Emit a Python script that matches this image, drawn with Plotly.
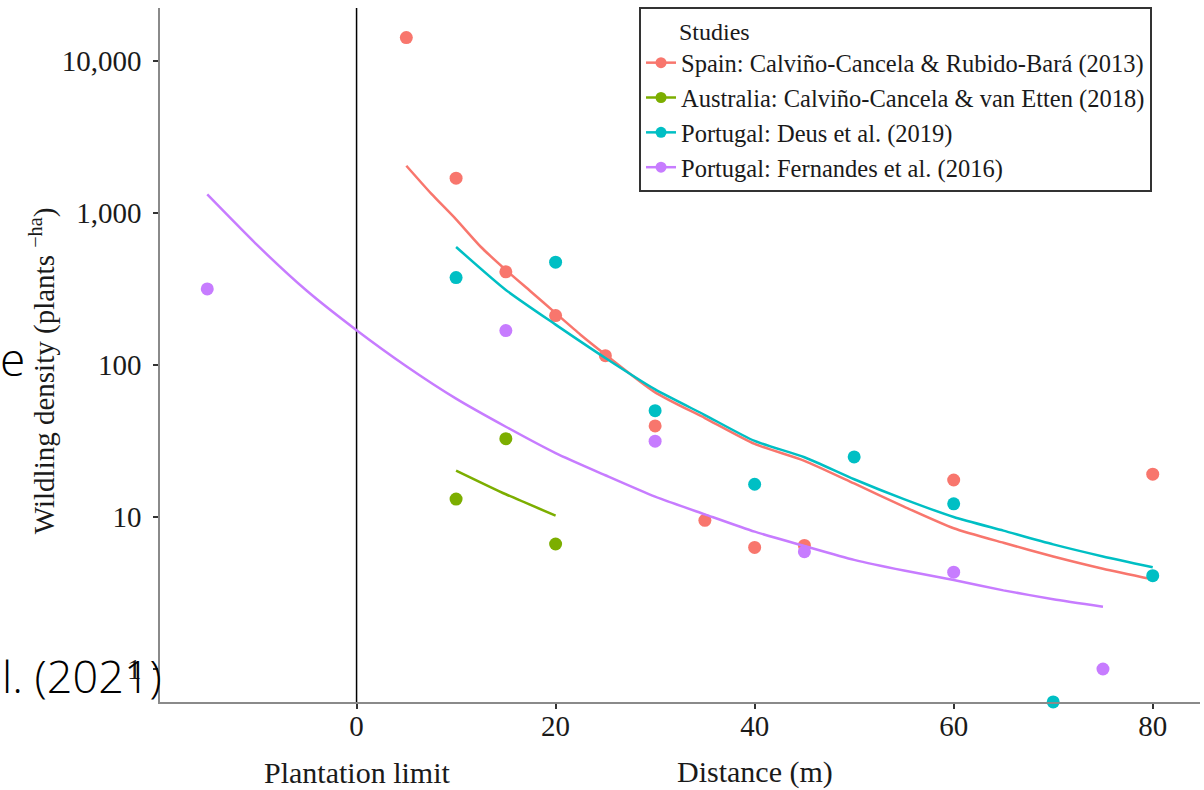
import plotly.graph_objects as go

# ---- observed points (distance in m, wildling density in plants/ha) ----
spain_x = [5, 10, 15, 20, 25, 30, 35, 40, 45, 60, 80]
spain_y = [14200, 1690, 409, 211, 115, 39.7, 9.5, 6.3, 6.5, 17.5, 19.1]

aus_x = [10, 15, 20]
aus_y = [13.1, 32.7, 6.64]

deus_x = [10, 20, 30, 40, 50, 60, 70, 80]
deus_y = [375, 474, 50, 16.4, 24.8, 12.2, 0.607, 4.11]  # 0 value drawn at axis floor

fern_x = [-15, 15, 30, 45, 60, 75]
fern_y = [316, 168, 31.5, 5.91, 4.33, 1.0]

# ---- fitted curves ----
spain_fit_x = [5, 7.5, 10, 12.5, 15, 17.5, 20, 22.5, 25, 30, 35, 40, 45, 50, 55, 60, 65, 70, 75, 80]
spain_fit_y = [2040, 1337, 906, 596, 421, 304, 219, 158, 117, 66, 44.7, 30.2, 23.4, 16.6, 11.7, 8.43, 6.76, 5.5, 4.57, 3.89]

aus_fit_x = [10, 15, 20]
aus_fit_y = [20.2, 14.1, 10.2]

deus_fit_x = [10, 15, 20, 25, 30, 35, 40, 45, 50, 55, 60, 65, 70, 75, 80]
deus_fit_y = [596, 311, 184, 111, 69, 46.8, 31.6, 24.7, 17.7, 13.1, 10.0, 8.13, 6.6, 5.5, 4.67]

fern_fit_x = [-15, -10, -5, 0, 5, 10, 15, 20, 25, 30, 35, 40, 45, 50, 55, 60, 65, 70, 75]
fern_fit_y = [1320, 615, 307, 169, 98, 60, 39.2, 26.3, 18.8, 13.6, 10.4, 8.0, 6.44, 5.22, 4.44, 3.85, 3.29, 2.88, 2.57]

study_names = [
    "Spain: Calviño-Cancela & Rubido-Bará (2013)",
    "Australia: Calviño-Cancela & van Etten (2018)",
    "Portugal: Deus et al. (2019)",
    "Portugal: Fernandes et al. (2016)",
]
colors = ["#F8766D", "#7CAE00", "#00BFC4", "#C77CFF"]

x_ticks = [0, 20, 40, 60, 80]
y_ticks = [1, 10, 100, 1000, 10000]
y_tick_text = ["1", "10", "100", "1,000", "10,000"]

pts = [(spain_x, spain_y), (aus_x, aus_y), (deus_x, deus_y), (fern_x, fern_y)]
fits = [(spain_fit_x, spain_fit_y), (aus_fit_x, aus_fit_y), (deus_fit_x, deus_fit_y), (fern_fit_x, fern_fit_y)]

serif = "Liberation Serif"
txt = "#1a1a1a"
fig = go.Figure()
for name, col, (px, py), (fx, fy) in zip(study_names, colors, pts, fits):
    fig.add_trace(go.Scatter(x=fx, y=fy, mode="lines", line=dict(color=col, width=2.5, shape="spline", smoothing=0.6),
                             legendgroup=name, showlegend=False, hoverinfo="skip"))
    fig.add_trace(go.Scatter(x=px, y=py, mode="markers", marker=dict(color=col, size=13),
                             legendgroup=name, showlegend=False, cliponaxis=False))
    fig.add_trace(go.Scatter(x=[None], y=[None], mode="lines+markers", name=name,
                             line=dict(color=col, width=2.5), marker=dict(color=col, size=11),
                             legendgroup=name))

axis_common = dict(showline=True, linecolor="#8a8a8a", linewidth=1.5, ticks="outside", ticklen=5,
                   tickcolor="#333333", tickwidth=1.5, showgrid=False, zeroline=False,
                   tickfont=dict(family=serif, size=29, color=txt))

fig.update_layout(
    width=1204, height=790,
    margin=dict(l=160, r=4, t=8, b=88),
    paper_bgcolor="white", plot_bgcolor="white",
    xaxis=dict(range=[-19.75, 84.75], tickvals=x_ticks, ticklabelstandoff=-8, **axis_common),
    yaxis=dict(type="log", range=[-0.217, 4.347], tickvals=y_ticks, ticktext=y_tick_text,
               ticklabelstandoff=6, **axis_common),
    legend=dict(x=0.4606, y=1.0014, xanchor="left", yanchor="top", bgcolor="white",
                bordercolor="#333333", borderwidth=2, itemwidth=30, tracegroupgap=0,
                font=dict(family=serif, size=24.5, color=txt),
                title=dict(text="\u00a0\u00a0\u00a0\u00a0\u00a0\u00a0Studies", font=dict(family=serif, size=24, color=txt))),
    shapes=[dict(type="line", xref="x", yref="paper", x0=0, x1=0, y0=0, y1=1,
                 line=dict(color="black", width=1.5), layer="below")],
    annotations=[
        dict(text="Wildling density (plants <sup>\u2212ha</sup>)", textangle=-90, xref="paper", yref="paper",
             x=-0.1135, y=0.478, xanchor="center", yanchor="middle", showarrow=False,
             font=dict(family=serif, size=29, color=txt)),
        dict(text="Plantation limit", xref="x", yref="paper", x=0, y=-0.101, xanchor="center", yanchor="middle",
             showarrow=False, font=dict(family=serif, size=30, color=txt)),
        dict(text="Distance (m)", xref="x", yref="paper", x=40, y=-0.101, xanchor="center", yanchor="middle",
             showarrow=False, font=dict(family=serif, size=30, color=txt)),
        dict(text="e", xref="paper", yref="paper", x=-0.1423, y=0.4957, xanchor="center", yanchor="middle",
             showarrow=False, font=dict(family="Open Sans", size=46, color="black", weight=300)),
        dict(text="l. (2021)", xref="paper", yref="paper", x=-0.1538, xanchor="left", y=0.0375, yanchor="middle",
             showarrow=False, font=dict(family="Open Sans", size=45, color="black", weight=300)),
    ],
)

fig.write_html("out.html")
